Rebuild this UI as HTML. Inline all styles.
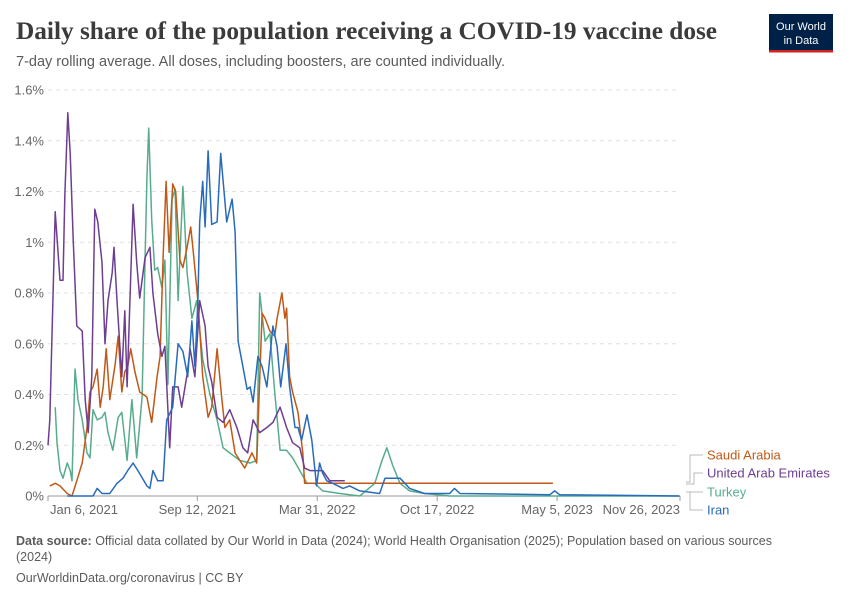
<!DOCTYPE html>
<html><head><meta charset="utf-8"><style>
body{margin:0;background:#fff;}
svg text{font-family:"Liberation Sans",sans-serif;}
</style></head><body>
<svg id="chart" width="850" height="600" xmlns="http://www.w3.org/2000/svg">
<text x="16" y="39" font-size="25.3" font-weight="bold" fill="#3b3b3b" style="font-family:'Liberation Serif',serif">Daily share of the population receiving a COVID-19 vaccine dose</text>
<text x="16" y="66" font-size="14.5" fill="#5b5b5b">7-day rolling average. All doses, including boosters, are counted individually.</text>
<g>
<rect x="769" y="14" width="64" height="38" fill="#002147"/>
<rect x="769" y="50" width="64" height="2.5" fill="#ce261e"/>
<text x="801" y="30" font-size="11" fill="#fff" text-anchor="middle">Our World</text>
<text x="801" y="44" font-size="11" fill="#fff" text-anchor="middle">in Data</text>
</g>
<g id="grid"></g><g id="series"></g><g id="legend"></g>
<text x="16" y="545" font-size="12.5" fill="#5b5b5b"><tspan font-weight="bold">Data source:</tspan> Official data collated by Our World in Data (2024); World Health Organisation (2025); Population based on various sources</text>
<text x="16" y="561" font-size="12.5" fill="#5b5b5b">(2024)</text>
<text x="16" y="582" font-size="12.5" fill="#5b5b5b">OurWorldinData.org/coronavirus | CC BY</text>
</svg>
<script>
const yTicks=[0,0.2,0.4,0.6,0.8,1,1.2,1.4,1.6];
const yTickLabels=["0%","0.2%","0.4%","0.6%","0.8%","1%","1.2%","1.4%","1.6%"];
const xTickDays=[0,249,449,649,849,1054];
const xTickLabels=["Jan 6, 2021","Sep 12, 2021","Mar 31, 2022","Oct 17, 2022","May 5, 2023","Nov 26, 2023"];
const seriesNames=["Saudi Arabia","United Arab Emirates","Turkey","Iran"];
const seriesColors=["#c05917","#6d3e91","#58ac8c","#286bbb"];
const saudiDays=[3,12,20,32,40,48,57,65,70,75,82,87,92,97,103,112,117,123,128,133,138,145,153,165,173,182,187,192,197,202,208,213,220,225,232,238,242,250,258,267,273,282,290,295,303,312,320,328,340,348,357,362,370,378,382,390,395,398,403,408,417,425,428,842];
const saudiVals=[.04,.05,.04,.01,0,.06,.13,.27,.41,.43,.50,.35,.43,.58,.38,.52,.63,.41,.49,.51,.58,.49,.41,.39,.29,.47,.55,.94,1.24,.96,1.23,1.20,.93,.90,.98,1.06,.97,.77,.47,.31,.35,.58,.38,.27,.30,.17,.14,.11,.17,.13,.72,.70,.65,.63,.70,.80,.70,.74,.47,.41,.33,.17,.05,.05];
const uaeDays=[0,3,12,20,25,28,33,37,42,48,57,62,67,73,78,83,90,95,100,107,110,115,123,128,132,142,148,153,162,170,175,183,190,195,203,208,217,223,232,237,245,253,262,267,273,282,292,303,315,325,333,342,353,365,375,387,398,408,420,428,437,458,470,495];
const uaeVals=[.20,.30,1.12,.85,.85,1.18,1.51,1.35,1.01,.67,.65,.38,.25,.47,1.13,1.08,.92,.60,.77,.88,.98,.77,.47,.73,.43,1.15,.92,.78,.94,.98,.80,.64,.55,.59,.19,.43,.43,.35,.48,.58,.47,.77,.67,.51,.45,.31,.29,.34,.27,.19,.17,.30,.25,.27,.29,.35,.27,.21,.19,.11,.10,.10,.06,.06];
const turkeyDays=[12,15,20,25,32,37,40,45,50,57,65,70,75,82,90,95,100,108,117,123,132,140,148,157,162,165,168,173,178,183,190,195,200,207,212,217,225,232,240,248,258,270,282,292,303,320,337,348,353,362,370,378,387,398,408,420,432,445,458,487,520,545,557,565,575,587,603,628,670,1053];
const turkeyVals=[.35,.21,.10,.07,.13,.10,.06,.50,.38,.30,.17,.15,.34,.30,.31,.33,.25,.18,.31,.33,.14,.38,.15,.39,.94,1.25,1.45,1.09,.89,.90,.82,.93,.44,1.17,1.21,.77,1.22,.88,.70,.77,.54,.40,.30,.19,.17,.14,.13,.14,.80,.61,.64,.41,.18,.18,.15,.10,.05,.05,.02,.01,0,.05,.14,.19,.12,.05,.02,.01,0,0];
const iranDays=[32,75,82,90,103,115,125,133,142,150,165,170,175,183,192,198,208,217,225,233,240,245,250,253,258,262,267,273,282,288,298,307,312,317,325,332,337,342,350,357,365,375,382,388,397,403,412,417,423,432,440,448,453,458,465,475,492,503,520,553,562,587,603,628,670,678,687,837,845,853,1053];
const iranVals=[0,0,.03,.01,.01,.05,.07,.10,.13,.10,.04,.03,.10,.06,.06,.30,.35,.60,.57,.47,.69,.51,.77,1.08,1.24,1.06,1.36,1.07,1.08,1.35,1.08,1.17,1.04,.61,.51,.42,.43,.37,.55,.51,.43,.67,.59,.43,.60,.43,.27,.27,.22,.32,.22,.04,.13,.09,.06,.05,.03,.04,.02,.01,.07,.07,.03,.01,.01,.03,.01,.005,.02,.005,0];
const X0=48,X1=680,Y0=496,Y1=90,DMAX=1054,VMAX=1.6;
const xs=d=>X0+d/DMAX*(X1-X0);
const ys=v=>Y0-v/VMAX*(Y0-Y1);
const NS="http://www.w3.org/2000/svg";
function mk(tag,attrs,parent,txt){const e=document.createElementNS(NS,tag);for(const k in attrs)e.setAttribute(k,attrs[k]);if(txt!==undefined)e.textContent=txt;parent.appendChild(e);return e;}
const grid=document.getElementById('grid');
yTicks.forEach((t,i)=>{
  if(i>0){const l=mk('line',{x1:X0,x2:X1,y1:ys(t),y2:ys(t),stroke:'#e0e0e0','stroke-dasharray':'4,4'},grid);
  
  }
  const tx=mk('text',{x:44,y:ys(t)+4.5,'text-anchor':'end','font-size':13,fill:'#666'},grid,yTickLabels[i]);
  
  
});
const ax=mk('line',{x1:X0,x2:X1,y1:Y0,y2:Y0,stroke:'#999'},grid);


xTickDays.forEach((d,i)=>{
  const tk=mk('line',{x1:xs(d),x2:xs(d),y1:Y0,y2:Y0+5,stroke:'#999'},grid);
  
  
  let x=xs(d),anchor='middle';
  if(i===0){x=X0+2;anchor='start';}
  if(i===xTickLabels.length-1){x=X1;anchor='end';}
  const tx=mk('text',{x:x,y:Y0+18,'text-anchor':anchor,'font-size':13,fill:'#666'},grid,xTickLabels[i]);
  
  
});
const data=[[saudiDays,saudiVals],[uaeDays,uaeVals],[turkeyDays,turkeyVals],[iranDays,iranVals]];
const sg=document.getElementById('series');
[2,0,1,3].forEach(i=>{
  const [ds,vs]=data[i];
  const pts=ds.map((d,j)=>xs(d).toFixed(1)+','+ys(vs[j]).toFixed(1)).join(' ');
  const p=mk('polyline',{points:pts,fill:'none',stroke:seriesColors[i],'stroke-width':1.5,'stroke-linejoin':'round'},sg);
  
  
});
const lg=document.getElementById('legend');
const ly=[455,473,492,510];
mk('path',{d:'M686,482 H690 V455 H703 M686,484 H694 V473 H703 M686,492 H694 H703 M690,492 V510 H703',fill:'none',stroke:'#bbb','stroke-width':1},lg);
seriesNames.forEach((n,i)=>{
  const t=mk('text',{x:707,y:ly[i]+4.5,'font-size':13,fill:seriesColors[i]},lg,n);
  
  
});
</script>
</body></html>
